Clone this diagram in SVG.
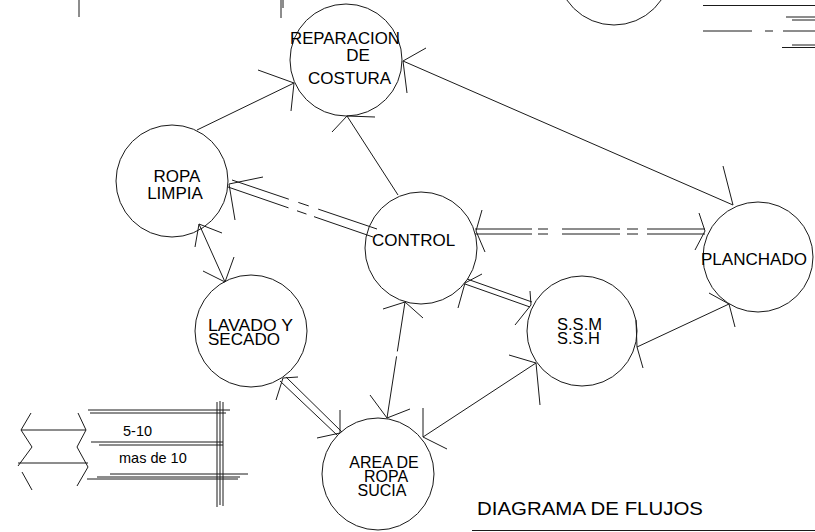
<svg xmlns="http://www.w3.org/2000/svg" width="815" height="532" viewBox="0 0 815 532">
<style>
.n circle{fill:none;stroke:#1a1a1a;stroke-width:1}
.t{font-family:"Liberation Sans",Arial,sans-serif;font-size:17px;fill:#000}
.s{font-size:16px}
.tc{text-anchor:middle}
.lg{font-family:"Liberation Sans",Arial,sans-serif;font-size:14.5px;fill:#000}
#connectors path{fill:none;stroke:#1a1a1a;stroke-width:1}
.deco line,.deco polyline,.deco path{fill:none;stroke:#1a1a1a;stroke-width:1}
</style>
<rect width="815" height="532" fill="#fff"/>

<g id="connectors">
  <!-- ROPA LIMPIA -> REPARACION -->
  <path d="M197,130 L294,83"/>
  <path d="M258,70 L294,83 L291,111"/>
  <!-- CONTROL -> REPARACION -->
  <path d="M398,195 L347,116"/>
  <path d="M332,132 L347,116 L375,117"/>
  <!-- PLANCHADO -> REPARACION -->
  <path d="M403,61 L733,205"/>
  <path d="M426,48 L403,61 L407,93"/>
  <path d="M723,166 L733,205"/>
  <!-- ROPA LIMPIA <-> CONTROL (double dashed) -->
  <path d="M232,180 L377,229" stroke-dasharray="60 10 11 10 200"/>
  <path d="M228,187 L373,237" stroke-dasharray="64 9 10 8 200"/>
  <path d="M263,177 L229,184 L235,220"/>
  <!-- ROPA LIMPIA <-> LAVADO -->
  <path d="M199,224 L225,282"/>
  <path d="M222,233 L199,224 L195,247"/>
  <path d="M203,271 L225,282 L234,257"/>
  <!-- CONTROL <-> PLANCHADO (double dashed) -->
  <path d="M475,229 H705" stroke-dasharray="57 6 10 14 58 7 11 9 80"/>
  <path d="M475,234 H705" stroke-dasharray="57 6 10 14 58 7 11 9 80"/>
  <path d="M482,210 L476,231 L485,252"/>
  <path d="M699,213 L705,231 L695,250"/>
  <!-- CONTROL <-> S.S.M (double) -->
  <path d="M467,279 L532,302"/>
  <path d="M465,284 L530,307"/>
  <path d="M482,274 L465,283 L458,308"/>
  <path d="M530,291 L531,305 L515,325"/>
  <!-- CONTROL <-> AREA (dashed) -->
  <path d="M405,302 L387,418" stroke-dasharray="50 5 80"/>
  <path d="M383,309 L405,302 L423,318"/>
  <path d="M370,395 L387,418 L410,409"/>
  <!-- S.S.M <-> AREA -->
  <path d="M536,363 L423,437"/>
  <path d="M509,355 L536,363 L540,405"/>
  <path d="M423,408 L423,437 L447,449"/>
  <!-- PLANCHADO <-> S.S.M -->
  <path d="M729,304 L637,347"/>
  <path d="M709,293 L729,304 L735,327"/>
  <path d="M636,320 L637,347 L643,368"/>
  <!-- LAVADO <-> AREA (double) -->
  <path d="M286,377 L342,432"/>
  <path d="M280,381 L337,435"/>
  <path d="M298,377 L283,378 L276,400"/>
  <path d="M340,410 L340,433 L317,438"/>
</g>

<g id="reparacion" class="n">
  <circle cx="346" cy="60" r="56"/>
  <text class="t" x="290" y="44" textLength="110" lengthAdjust="spacingAndGlyphs">REPARACION</text>
  <text class="t tc" x="358" y="61">DE</text>
  <text class="t" x="308" y="84">COSTURA</text>
</g>
<g id="ropa-limpia" class="n">
  <circle cx="172" cy="181" r="56"/>
  <text class="t tc" x="177" y="182">ROPA</text>
  <text class="t tc" x="175" y="199">LIMPIA</text>
</g>
<g id="control" class="n">
  <circle cx="421" cy="248" r="56"/>
  <text class="t" x="372" y="246">CONTROL</text>
</g>
<g id="planchado" class="n">
  <circle cx="758" cy="257" r="55"/>
  <text class="t" x="701" y="265" textLength="106" lengthAdjust="spacingAndGlyphs">PLANCHADO</text>
</g>
<g id="ssm-ssh" class="n">
  <circle cx="582" cy="331" r="55"/>
  <text class="t s" x="557" y="330" textLength="45" lengthAdjust="spacingAndGlyphs">S.S.M</text>
  <text class="t s" x="557" y="344" textLength="43" lengthAdjust="spacingAndGlyphs">S.S.H</text>
</g>
<g id="lavado" class="n">
  <circle cx="251" cy="331" r="56"/>
  <text class="t s" x="208" y="331" textLength="85" lengthAdjust="spacingAndGlyphs">LAVADO Y</text>
  <text class="t s" x="208" y="345" textLength="72" lengthAdjust="spacingAndGlyphs">SECADO</text>
</g>
<g id="area-ropa-sucia" class="n">
  <circle cx="378" cy="474" r="56"/>
  <text class="t s tc" x="384" y="468">AREA DE</text>
  <text class="t s tc" x="386" y="482">ROPA</text>
  <text class="t s tc" x="382" y="496">SUCIA</text>
</g>
<g id="top-node" class="n">
  <circle cx="614" cy="-32" r="57"/>
</g>

<g class="deco">
  <!-- top-left fragments -->
  <line x1="79" y1="0" x2="79" y2="17"/>
  <line x1="281" y1="0" x2="281" y2="18"/>
  <line x1="283" y1="0" x2="283" y2="8"/>
  <!-- top-right fragments -->
  <line x1="703" y1="5.5" x2="815" y2="5.5" stroke-width="1.5"/>
  <line x1="786" y1="17" x2="815" y2="17"/>
  <line x1="792" y1="20" x2="815" y2="20"/>
  <line x1="703" y1="31" x2="815" y2="31" stroke-dasharray="49 13 8 10 40"/>
  <line x1="792" y1="45" x2="815" y2="45"/>
  <line x1="782" y1="47.5" x2="815" y2="47.5"/>
  <!-- legend -->
  <polyline points="31,413 21,430 32,447 18,466"/>
  <polyline points="22,472 32,490"/>
  <polyline points="78,413 86,430 77,447 88,467 77,486"/>
  <line x1="21" y1="430" x2="86" y2="430"/>
  <line x1="18" y1="463" x2="88" y2="463"/>
  <line x1="88" y1="410" x2="230" y2="410"/>
  <line x1="90" y1="413" x2="226" y2="413"/>
  <line x1="91" y1="442" x2="223" y2="442"/>
  <line x1="99" y1="445" x2="223" y2="445"/>
  <line x1="110" y1="474" x2="248" y2="474"/>
  <line x1="97" y1="477" x2="240" y2="477"/>
  <line x1="87" y1="479" x2="238" y2="479"/>
  <line x1="217" y1="402" x2="217" y2="507"/>
  <line x1="220" y1="401" x2="220" y2="505"/>
  <line x1="223" y1="402" x2="223" y2="506"/>
  <!-- title underline -->
  <line x1="472" y1="530.5" x2="815" y2="530.5" stroke-width="1.5"/>
</g>
<text class="lg" x="123" y="436">5-10</text>
<text class="lg" x="119" y="463">mas de 10</text>
<text x="477" y="515" textLength="226" lengthAdjust="spacingAndGlyphs" style="font-family:'Liberation Sans',Arial,sans-serif;font-size:19px;fill:#000">DIAGRAMA DE FLUJOS</text>
</svg>
